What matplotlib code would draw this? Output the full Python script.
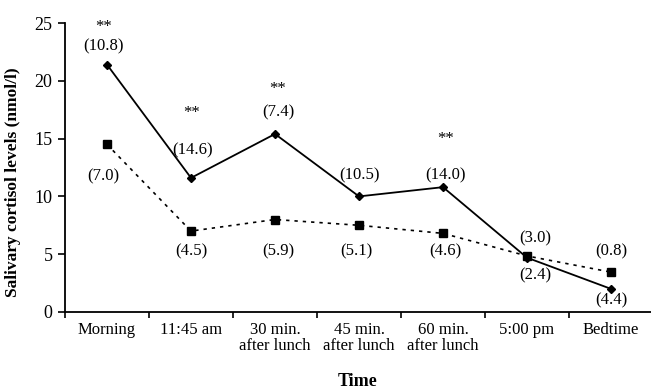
import matplotlib
matplotlib.use("Agg")
import matplotlib.pyplot as plt

# categories along the time axis
times = ["Morning", "11:45 am", "30 min.\nafter lunch", "45 min.\nafter lunch",
         "60 min.\nafter lunch", "5:00 pm", "Bedtime"]

# solid line, diamonds
solid_vals = [21.4, 11.6, 15.4, 10.0, 10.8, 4.7, 2.0]
solid_sd = ["(10.8)", "(14.6)", "(7.4)", "(10.5)", "(14.0)", "(2.4)", "(4.4)"]
solid_sig = ["**", "**", "**", "", "**", "", ""]

# dotted line, squares
dotted_vals = [14.5, 7.0, 8.0, 7.5, 6.8, 4.85, 3.45]
dotted_sd = ["(7.0)", "(4.5)", "(5.9)", "(5.1)", "(4.6)", "(3.0)", "(0.8)"]

yticks = [0, 5, 10, 15, 20, 25]

# label offsets in pixels (dx, dy) relative to each marker
solid_off = [(-3, 18), (2, 28), (3, 22), (0, 21), (2, 12), (8, -18), (0, -12)]
sig_off = [(-3, 38), (1, 65), (3, 45), (0, 0), (3, 48), (0, 0), (0, 0)]
dotted_off = [(-4, -32), (0, -20), (3, -32), (-3, -26), (2, -18), (8, 18), (0, 21)]

plt.rcParams["font.family"] = ["Liberation Serif", "DejaVu Serif"]

fig = plt.figure(figsize=(6.51, 3.89), dpi=100)
ax = fig.add_axes([65 / 651, 77 / 389, 588 / 651, 289 / 389])

x = list(range(len(times)))
ax.plot(x, solid_vals, color="black", lw=1.3, marker="D", ms=4.5)
ax.plot(x, dotted_vals, color="black", lw=1.2, ls=(0, (2, 3)), marker="s", ms=5.5)

fs = 12
for i in x:
    dx, dy = solid_off[i]
    ax.annotate(solid_sd[i], (i, solid_vals[i]), xytext=(dx, dy),
                textcoords="offset pixels", ha="center", va="center", fontsize=fs)
    if solid_sig[i]:
        dx, dy = sig_off[i]
        ax.annotate(solid_sig[i], (i, solid_vals[i]), xytext=(dx, dy),
                    textcoords="offset pixels", ha="center", va="center", fontsize=fs)
    dx, dy = dotted_off[i]
    ax.annotate(dotted_sd[i], (i, dotted_vals[i]), xytext=(dx, dy),
                textcoords="offset pixels", ha="center", va="center", fontsize=fs)

ax.set_xlim(-0.5, len(times) - 0.5)
ax.set_ylim(0, 25)
ax.set_yticks(yticks)
ax.set_xticks([i - 0.5 for i in range(len(times) + 1)])
ax.set_xticklabels([])
ax.set_xticks(x, minor=True)
ax.set_xticklabels(times, minor=True, fontsize=fs, linespacing=1.0)
ax.tick_params(axis="x", which="minor", length=0, pad=7)
ax.tick_params(axis="x", which="major", length=4, width=1.2, direction="out")
ax.tick_params(axis="y", length=5, width=1.2, labelsize=fs + 1, pad=4)
for s in ("top", "right"):
    ax.spines[s].set_visible(False)
for s in ("left", "bottom"):
    ax.spines[s].set_linewidth(1.3)

# axis titles placed in figure pixels to match the original layout
fig.text(13 / 651, 1 - 182 / 389, "Salivary cortisol levels (nmol/l)", rotation=90,
         ha="center", va="center", fontsize=12.5, fontweight="bold")
fig.text(358 / 651, 1 - 382 / 389, "Time", ha="center", va="center",
         fontsize=13, fontweight="bold")

fig.savefig("out.png", dpi=100)
